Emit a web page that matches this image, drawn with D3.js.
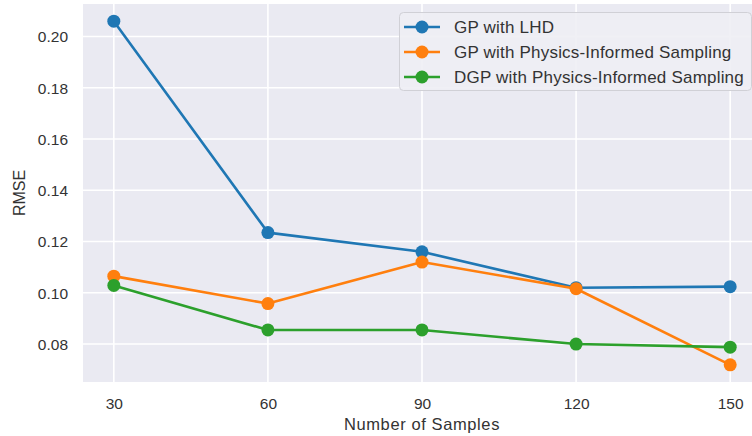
<!DOCTYPE html>
<html>
<head>
<meta charset="utf-8">
<script src="https://cdn.jsdelivr.net/npm/d3@7"></script>
<style>
  html, body { margin: 0; padding: 0; background: #ffffff; }
  svg { display: block; font-family: "Liberation Sans", Arial, sans-serif; }
</style>
</head>
<body>
<svg id="chart" width="752" height="436"></svg>
<script>
// Sample counts on the x axis
const sampleSizes = [30, 60, 90, 120, 150];

// RMSE for each method at each sample size
const gpLhd = [0.2060, 0.1235, 0.1160, 0.1020, 0.1024];
const gpPhysics = [0.1065, 0.0958, 0.1120, 0.1016, 0.0719];
const dgpPhysics = [0.1029, 0.0855, 0.0855, 0.0800, 0.0788];

const seriesNames = [
  "GP with LHD",
  "GP with Physics-Informed Sampling",
  "DGP with Physics-Informed Sampling"
];
const seriesColors = ["#1f77b4", "#ff7f0e", "#2ca02c"];

const yTicks = [0.08, 0.10, 0.12, 0.14, 0.16, 0.18, 0.20];

const series = [gpLhd, gpPhysics, dgpPhysics].map((vals, i) => ({
  name: seriesNames[i],
  color: seriesColors[i],
  points: vals.map((v, j) => ({ x: sampleSizes[j], y: v }))
}));

const svg = d3.select("#chart");
const plot = { left: 83, top: 4, right: 761, bottom: 382 };

// 5% padding around the data range on both axes
function padded(ext) {
  const pad = (ext[1] - ext[0]) * 0.05;
  return [ext[0] - pad, ext[1] + pad];
}
const allY = [].concat(gpLhd, gpPhysics, dgpPhysics);

const x = d3.scaleLinear()
  .domain(padded(d3.extent(sampleSizes)))
  .range([plot.left, plot.right]);
const y = d3.scaleLinear()
  .domain(padded(d3.extent(allY)))
  .range([plot.bottom, plot.top]);

const textColor = "#333333";

// Plot background
svg.append("rect")
  .attr("x", plot.left).attr("y", plot.top)
  .attr("width", plot.right - plot.left)
  .attr("height", plot.bottom - plot.top)
  .attr("fill", "#eaeaf2");

// White grid lines
const grid = svg.append("g");
grid.selectAll("line.v").data(sampleSizes).join("line")
  .attr("x1", d => x(d)).attr("x2", d => x(d))
  .attr("y1", plot.top).attr("y2", plot.bottom)
  .attr("stroke", "#ffffff").attr("stroke-width", 1.6);
grid.selectAll("line.h").data(yTicks).join("line")
  .attr("x1", plot.left).attr("x2", plot.right)
  .attr("y1", d => y(d)).attr("y2", d => y(d))
  .attr("stroke", "#ffffff").attr("stroke-width", 1.6);

// Axes (tick labels only, no domain line or tick marks)
const xAxis = svg.append("g")
  .attr("transform", `translate(0,${plot.bottom})`)
  .call(d3.axisBottom(x).tickValues(sampleSizes).tickSize(0).tickPadding(27));
const yAxis = svg.append("g")
  .attr("transform", `translate(${plot.left},0)`)
  .call(d3.axisLeft(y).tickValues(yTicks).tickFormat(d3.format(".2f")).tickSize(0).tickPadding(15));
[xAxis, yAxis].forEach(a => {
  a.select(".domain").remove();
  a.selectAll("text")
    .attr("fill", textColor)
    .style("font-size", "15.5px")
    .style("font-family", '"Liberation Sans", Arial, sans-serif');
});
xAxis.selectAll("text").attr("dy", "0");
yAxis.selectAll("text").attr("dy", "0.35em");

// Axis titles
svg.append("text")
  .attr("x", (plot.left + plot.right) / 2)
  .attr("y", 430)
  .attr("text-anchor", "middle")
  .attr("fill", textColor)
  .style("font-size", "16.5px")
  .style("letter-spacing", "0.6px")
  .text("Number of Samples");
svg.append("text")
  .attr("transform", `translate(25,${(plot.top + plot.bottom) / 2}) rotate(-90)`)
  .attr("text-anchor", "middle")
  .attr("fill", textColor)
  .style("font-size", "16px")
  .text("RMSE");

// Lines and markers
const line = d3.line().x(d => x(d.x)).y(d => y(d.y));
const marks = svg.append("g");
series.forEach(s => {
  marks.append("path")
    .datum(s.points)
    .attr("d", line)
    .attr("fill", "none")
    .attr("stroke", s.color)
    .attr("stroke-width", 2.6)
    .attr("stroke-linejoin", "round")
    .attr("stroke-linecap", "round");
  marks.selectAll(null).data(s.points).join("circle")
    .attr("cx", d => x(d.x))
    .attr("cy", d => y(d.y))
    .attr("r", 6.5)
    .attr("fill", s.color);
});

// Legend
const legend = svg.append("g").attr("transform", "translate(399,12)");
legend.append("rect")
  .attr("x", 0.5).attr("y", 0.5)
  .attr("width", 352).attr("height", 78)
  .attr("rx", 4).attr("ry", 4)
  .attr("fill", "#eeeef4")
  .attr("fill-opacity", 0.9)
  .attr("stroke", "#d0d0d6")
  .attr("stroke-width", 1);
const rows = legend.selectAll("g.row").data(series).join("g")
  .attr("transform", (d, i) => `translate(0,${15 + i * 25})`);
rows.append("line")
  .attr("x1", 5).attr("x2", 41)
  .attr("stroke", d => d.color).attr("stroke-width", 2.6);
rows.append("circle")
  .attr("cx", 23).attr("r", 6.5)
  .attr("fill", d => d.color);
rows.append("text")
  .attr("x", 55).attr("dy", "0.35em")
  .attr("fill", textColor)
  .style("font-size", "17px")
  .style("letter-spacing", "0.2px")
  .text(d => d.name);
</script>
</body>
</html>
